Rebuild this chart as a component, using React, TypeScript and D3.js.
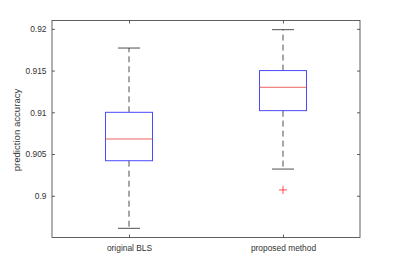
import React, { useEffect, useRef } from "react";
import * as d3 from "d3";

const categories = ["original BLS", "proposed method"];
const whiskerLow = [0.8961, 0.9032];
const q1 = [0.9042, 0.9102];
const median = [0.9068, 0.913];
const q3 = [0.91, 0.915];
const whiskerHigh = [0.9177, 0.9199];
const outliers = [[], [0.9007]];
const yTicks = [0.9, 0.905, 0.91, 0.915, 0.92];

export default function App() {
  const ref = useRef<SVGSVGElement>(null);

  useEffect(() => {
    const svg = d3.select(ref.current);
    svg.selectAll("*").remove();

    const left = 52;
    const right = 360;
    const top = 20.5;
    const bottom = 237.5;
    const font = "'Liberation Sans', Arial, Helvetica, sans-serif";
    const axisColor = "#333";

    const x = d3.scalePoint().domain(categories).range([left, right]).padding(0.5);
    const y = d3.scaleLinear().domain([0.895, 0.921]).range([bottom, top]);
    const boxW = 47;
    const capW = 22;

    // frame
    svg
      .append("rect")
      .attr("x", left)
      .attr("y", top)
      .attr("width", right - left)
      .attr("height", bottom - top)
      .attr("fill", "white")
      .attr("stroke", "#3a3a3a")
      .attr("stroke-width", 0.8);

    const yAxis = svg
      .append("g")
      .attr("transform", `translate(${left},0)`)
      .call(
        d3.axisLeft(y).tickValues(yTicks).tickSizeInner(-3).tickSizeOuter(0).tickPadding(5.5).tickFormat(d => `${+d}`)
      );
    const yAxisR = svg
      .append("g")
      .attr("transform", `translate(${right},0)`)
      .call(d3.axisRight(y).tickValues(yTicks).tickSizeInner(-3).tickSizeOuter(0).tickFormat(() => ""));
    const xAxis = svg
      .append("g")
      .attr("transform", `translate(0,${bottom})`)
      .call(d3.axisBottom(x).tickSizeInner(-3).tickSizeOuter(0).tickPadding(7.6));
    const xAxisT = svg
      .append("g")
      .attr("transform", `translate(0,${top})`)
      .call(d3.axisTop(x).tickSizeInner(-3).tickSizeOuter(0).tickFormat(() => ""));

    [yAxis, yAxisR, xAxis, xAxisT].forEach(g => {
      g.select(".domain").remove();
      g.selectAll("line").attr("stroke", "#3a3a3a").attr("stroke-width", 0.8);
      g.selectAll("text").attr("fill", axisColor).style("font-family", font).style("font-size", "8.4px");
    });

    const idx = d3.range(categories.length);
    const gBox = svg.append("g");

    // whiskers
    gBox
      .selectAll(".whiskUp")
      .data(idx)
      .enter()
      .append("line")
      .attr("x1", i => x(categories[i]))
      .attr("x2", i => x(categories[i]))
      .attr("y1", i => y(q3[i]))
      .attr("y2", i => y(whiskerHigh[i]))
      .attr("stroke", "#222")
      .attr("stroke-width", 0.8)
      .attr("stroke-dasharray", "6,4");
    gBox
      .selectAll(".whiskDn")
      .data(idx)
      .enter()
      .append("line")
      .attr("x1", i => x(categories[i]))
      .attr("x2", i => x(categories[i]))
      .attr("y1", i => y(q1[i]))
      .attr("y2", i => y(whiskerLow[i]))
      .attr("stroke", "#222")
      .attr("stroke-width", 0.8)
      .attr("stroke-dasharray", "6,4");

    // caps
    [whiskerHigh, whiskerLow].forEach(arr => {
      gBox
        .selectAll(null)
        .data(idx)
        .enter()
        .append("line")
        .attr("x1", i => x(categories[i]) - capW / 2)
        .attr("x2", i => x(categories[i]) + capW / 2)
        .attr("y1", i => y(arr[i]))
        .attr("y2", i => y(arr[i]))
        .attr("stroke", "#222")
        .attr("stroke-width", 0.8);
    });

    // boxes
    gBox
      .selectAll(".box")
      .data(idx)
      .enter()
      .append("rect")
      .attr("x", i => x(categories[i]) - boxW / 2)
      .attr("y", i => y(q3[i]))
      .attr("width", boxW)
      .attr("height", i => y(q1[i]) - y(q3[i]))
      .attr("fill", "none")
      .attr("stroke", "#4a4aff")
      .attr("stroke-width", 1);

    // medians
    gBox
      .selectAll(".med")
      .data(idx)
      .enter()
      .append("line")
      .attr("x1", i => x(categories[i]) - boxW / 2)
      .attr("x2", i => x(categories[i]) + boxW / 2)
      .attr("y1", i => y(median[i]))
      .attr("y2", i => y(median[i]))
      .attr("stroke", "#e83a3a")
      .attr("stroke-width", 0.8);

    // outliers
    const outPts = idx.flatMap(i => outliers[i].map(v => ({ c: categories[i], v })));
    gBox
      .selectAll(".out")
      .data(outPts)
      .enter()
      .append("path")
      .attr("d", d => {
        const cx = x(d.c);
        const cy = y(d.v);
        return `M${cx - 4},${cy}H${cx + 4}M${cx},${cy - 4}V${cy + 4}`;
      })
      .attr("stroke", "#ff2020")
      .attr("stroke-width", 0.8)
      .attr("fill", "none");

    // y label
    svg
      .append("text")
      .attr("transform", `translate(20,${(top + bottom) / 2 + 1}) rotate(-90)`)
      .attr("text-anchor", "middle")
      .attr("fill", axisColor)
      .style("font-family", font)
      .style("font-size", "9.6px")
      .text("prediction accuracy");
  }, []);

  return (
    <svg
      ref={ref}
      width={399}
      height={267}
      style={{ position: "absolute", left: 0, top: 0, background: "white" }}
    ></svg>
  );
}
